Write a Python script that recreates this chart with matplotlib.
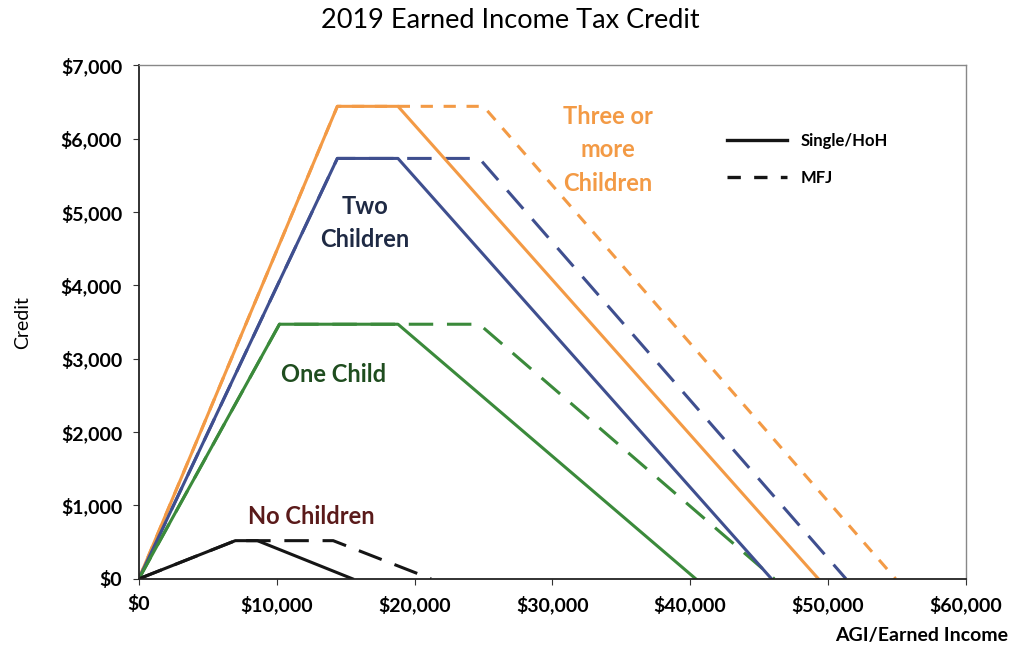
import matplotlib
matplotlib.use("Agg")
import matplotlib.pyplot as plt
from matplotlib.lines import Line2D

plt.rcParams["font.family"] = ["Lato", "DejaVu Sans"]

# ── Data (income, credit) ─────────────────────────────────────────────────────
none_single_x = [0, 7000, 8600, 15500]
none_single_y = [0, 520, 520, 0]
none_mfj_x = [0, 7000, 14100, 21200]
none_mfj_y = [0, 520, 520, 0]

one_single_x = [0, 10200, 18800, 40400]
one_single_y = [0, 3470, 3470, 0]
one_mfj_x = [0, 10200, 24700, 46100]
one_mfj_y = [0, 3470, 3470, 0]

two_single_x = [0, 14400, 18800, 45900]
two_single_y = [0, 5730, 5730, 0]
two_mfj_x = [0, 14400, 24700, 51300]
two_mfj_y = [0, 5730, 5730, 0]

three_single_x = [0, 14400, 18800, 49300]
three_single_y = [0, 6440, 6440, 0]
three_mfj_x = [0, 14400, 25000, 54900]
three_mfj_y = [0, 6440, 6440, 0]

x_ticks = [0, 10000, 20000, 30000, 40000, 50000, 60000]
y_ticks = [0, 1000, 2000, 3000, 4000, 5000, 6000, 7000]

ORANGE = "#f39a45"
BLUE = "#3f4f8f"
GREEN = "#3b8a3b"
BLACK = "#151515"

fig = plt.figure(figsize=(10.21, 6.46), dpi=100)
ax = fig.add_axes([0.136, 0.104, 0.810, 0.795])

lw = 2.2
long_dash = (0, (8, 4.5))
short_dash = (0, (4, 3.5))

# MFJ first so single lines sit on top
ax.plot(three_mfj_x, three_mfj_y, color=ORANGE, lw=lw, ls=short_dash)
ax.plot(two_mfj_x, two_mfj_y, color=BLUE, lw=lw, ls=long_dash)
ax.plot(one_mfj_x, one_mfj_y, color=GREEN, lw=lw, ls=long_dash)
ax.plot(none_mfj_x, none_mfj_y, color=BLACK, lw=lw, ls=long_dash)

ax.plot(three_single_x, three_single_y, color=ORANGE, lw=lw)
ax.plot(two_single_x, two_single_y, color=BLUE, lw=lw)
ax.plot(one_single_x, one_single_y, color=GREEN, lw=lw)
ax.plot(none_single_x, none_single_y, color=BLACK, lw=lw)

# Series labels
ax.text(34000, 5850, "Three or\nmore\nChildren", color=ORANGE, fontsize=17,
        ha="center", va="center", fontweight="bold", linespacing=1.55)
ax.text(16400, 4850, "Two\nChildren", color="#1f2a44", fontsize=17,
        ha="center", va="center", fontweight="bold", linespacing=1.5)
ax.text(14100, 2780, "One Child", color="#1f4d1f", fontsize=17,
        ha="center", va="center", fontweight="bold")
ax.text(12500, 850, "No Children", color="#5a1a1a", fontsize=17,
        ha="center", va="center", fontweight="bold")

handles = [Line2D([], [], color=BLACK, lw=2.4),
           Line2D([], [], color=BLACK, lw=2.4, ls=(0, (4, 4)))]
ax.legend(handles, ["Single/HoH", "MFJ"], loc="upper left",
          bbox_to_anchor=(0.693, 0.897), frameon=False, handlelength=3.6,
          prop={"weight": "bold", "size": 12}, labelspacing=1.25)

ax.set_xlim(0, 60000)
ax.set_ylim(0, 7000)
ax.set_xticks(x_ticks)
ax.set_yticks(y_ticks)
ax.set_xticklabels([f"${v:,.0f}" for v in x_ticks], fontweight="bold", fontsize=14)
ax.set_yticklabels([f"${v:,.0f}" for v in y_ticks], fontweight="bold", fontsize=14)
ax.tick_params(direction="out", length=4, color="#333333", pad=8)

for side in ("left", "bottom"):
    ax.spines[side].set_color("#222222")
    ax.spines[side].set_linewidth(1.3)
for side in ("top", "right"):
    ax.spines[side].set_color("#888888")
    ax.spines[side].set_linewidth(1.0)

fig.text(0.5, 0.968, "2019 Earned Income Tax Credit", ha="center", va="center",
         fontsize=19.5)
fig.text(0.022, 0.50, "Credit", rotation=90, ha="center", va="center", fontsize=14)
fig.text(0.987, 0.017, "AGI/Earned Income", ha="right", va="center",
         fontsize=14, fontweight="bold")

fig.savefig("out.png", dpi=100)
